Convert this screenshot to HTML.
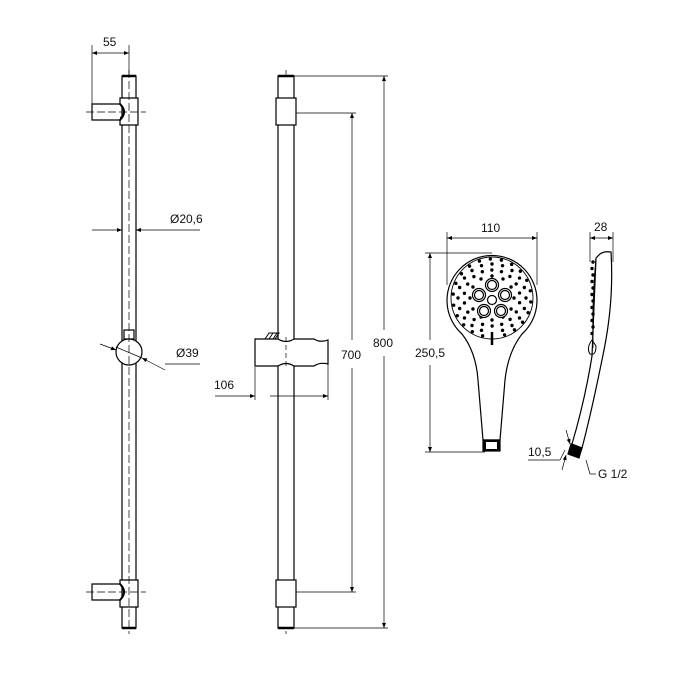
<!DOCTYPE html>
<html><head><meta charset="utf-8"><style>
html,body{margin:0;padding:0;background:#fff;width:700px;height:700px;overflow:hidden}
svg{display:block}
text{font-family:"Liberation Sans",sans-serif;font-size:12px;fill:#111}
</style></head><body>
<svg id="s" width="700" height="700" viewBox="0 0 700 700" xmlns="http://www.w3.org/2000/svg">
<defs>
<marker id="a" viewBox="0 0 10 10" refX="10" refY="5" markerWidth="9" markerHeight="5" orient="auto-start-reverse" markerUnits="userSpaceOnUse"><path d="M0,1 L10,5 L0,9z" fill="#000"/></marker>
</defs>
<g stroke="#000" fill="none" stroke-width="1.2">
<!-- LEFT BAR -->
<rect x="122" y="76" width="14" height="552" fill="#fff"/>
<line x1="122" y1="76" x2="136" y2="76" stroke-width="2.5"/>
<line x1="122" y1="628" x2="136" y2="628" stroke-width="2.5"/>
<!-- top bracket -->
<path d="M120,98 H138 V125 H120 V118 Q128,112 120,104 Z" fill="#fff"/>
<path d="M120,104 H92 V120 H120" fill="#fff"/>
<path d="M120,104 Q128,112 120,120" stroke-width="2"/>
<!-- bottom bracket -->
<path d="M120,580 H138 V607 H120 V600 Q128,592 120,584 Z" fill="#fff"/>
<path d="M120,584 H92 V600 H120" fill="#fff"/>
<path d="M120,584 Q128,592 120,600" stroke-width="2"/>
<!-- ball -->
<rect x="124" y="330" width="10" height="9" fill="#fff"/>
<circle cx="129" cy="352" r="13" fill="#fff"/>
<!-- center lines -->
<g stroke-width="0.7" stroke-dasharray="8,3">
<line x1="129" y1="70" x2="129" y2="634"/>
<line x1="86" y1="112" x2="146" y2="112"/>
<line x1="86" y1="592" x2="146" y2="592"/>
<line x1="286" y1="70" x2="286" y2="634"/>
</g>
<!-- dims left -->
<g stroke-width="0.7">
<line x1="92" y1="45" x2="92" y2="104"/>
<line x1="129" y1="45" x2="129" y2="76"/>
<line x1="92" y1="53" x2="129" y2="53" marker-start="url(#a)" marker-end="url(#a)"/>
<line x1="92" y1="230" x2="122" y2="230" marker-end="url(#a)"/>
<line x1="200" y1="230" x2="136" y2="230" marker-end="url(#a)"/>
<line x1="100" y1="344" x2="116" y2="350" marker-end="url(#a)"/>
<line x1="165" y1="370" x2="142" y2="358" marker-end="url(#a)"/>
<line x1="116" y1="347" x2="142" y2="358"/>
<line x1="165" y1="364" x2="200" y2="364"/>
</g>
<!-- MIDDLE BAR -->
<rect x="278" y="76" width="16" height="552" fill="#fff"/>
<line x1="278" y1="76" x2="294" y2="76" stroke-width="2.5"/>
<line x1="278" y1="628" x2="294" y2="628" stroke-width="2.5"/>
<rect x="276" y="98" width="20" height="27" fill="#fff"/>
<rect x="276" y="580" width="20" height="27" fill="#fff"/>
<path d="M255,339 H278 Q286,344 294,339 H314 Q320,343 328,340 V364 Q320,362 314,366 H294 Q286,361 278,366 H255 Z" fill="#fff"/>
<path d="M265,339 l4,-6 h10 l-4,6 M269,339 l4,-6 M273,339 l4,-6" stroke-width="1"/>
<g stroke-width="0.7">
<line x1="286" y1="337" x2="286" y2="367" stroke-dasharray="5,3"/>
<line x1="255" y1="367" x2="255" y2="400"/>
<line x1="328" y1="364" x2="328" y2="400"/>
<line x1="215" y1="396" x2="255" y2="396" marker-end="url(#a)"/>
<line x1="270" y1="396" x2="328" y2="396" marker-end="url(#a)"/>
<line x1="296" y1="113" x2="356" y2="113"/>
<line x1="296" y1="592" x2="356" y2="592"/>
<line x1="352" y1="113" x2="352" y2="340" marker-start="url(#a)"/>
<line x1="352" y1="368" x2="352" y2="592" marker-end="url(#a)"/>
<line x1="294" y1="76" x2="388" y2="76"/>
<line x1="294" y1="628" x2="388" y2="628"/>
<line x1="384" y1="76" x2="384" y2="330" marker-start="url(#a)"/>
<line x1="384" y1="356" x2="384" y2="628" marker-end="url(#a)"/>
</g>
<!-- SHOWER HEAD front -->
<path d="M462,334 A45,45 0 1 1 522,334 Q508,352 505,380 L500,440 H483 L478,380 Q476,352 462,334 Z" fill="#fff"/>
<circle cx="492" cy="298" r="41" stroke-width="0.9"/>
<rect x="483" y="440" width="17" height="11" fill="#000"/>
<rect x="486" y="442" width="11" height="7" fill="#fff" stroke="none"/>
<line x1="492" y1="332" x2="492" y2="345" stroke-width="2.5"/>
<g id="dots" fill="#000" stroke="none"></g>
<g id="cl" stroke-width="1.2"></g>
<g stroke-width="0.7">
<line x1="447" y1="232" x2="447" y2="285"/>
<line x1="537" y1="232" x2="537" y2="285"/>
<line x1="447" y1="238" x2="537" y2="238" marker-start="url(#a)" marker-end="url(#a)"/>
<line x1="425" y1="253" x2="492" y2="253"/>
<line x1="425" y1="452" x2="485" y2="452"/>
<line x1="430" y1="253" x2="430" y2="340" marker-start="url(#a)"/>
<line x1="430" y1="365" x2="430" y2="452" marker-end="url(#a)"/>
</g>
<!-- side view -->
<path d="M600,254 Q604,251 611,252 Q614,300 604,350 Q592,410 582,448 L572,444 Q585,400 592,356 L596,258 Z" fill="#fff"/>
<path d="M596,258 Q592,300 593,348" stroke-width="0.9"/>
<path d="M592,340 q-6,8 -2,14 q6,2 6,-8 z" stroke-width="1"/>
<g id="sd" fill="#000" stroke="none"></g>
<path d="M571,444 L582,448 L579,458 L568,454 Z" fill="#000"/>
<g stroke-width="0.7">
<line x1="590" y1="232" x2="590" y2="262"/>
<line x1="613" y1="232" x2="613" y2="262"/>
<line x1="590" y1="238" x2="613" y2="238" marker-start="url(#a)" marker-end="url(#a)"/>
<line x1="566" y1="430" x2="570" y2="444" marker-end="url(#a)"/>
<line x1="562" y1="470" x2="566" y2="455" marker-end="url(#a)"/>
<line x1="565" y1="450" x2="560" y2="460"/>
<line x1="528" y1="460" x2="560" y2="460"/>
<line x1="586" y1="460" x2="590" y2="474"/>
<line x1="590" y1="474" x2="596" y2="474"/>
</g>
</g>
<text x="103" y="46">55</text>
<text x="170" y="223">Ø20,6</text>
<text x="176" y="357">Ø39</text>
<text x="214" y="389">106</text>
<text x="341" y="359">700</text>
<text x="373" y="347">800</text>
<text x="481" y="232">110</text>
<text x="594" y="231">28</text>
<text x="415" y="357">250,5</text>
<text x="528" y="456">10,5</text>
<text x="598" y="478">G 1/2</text>
</svg>
<script>
var ns="http://www.w3.org/2000/svg",cx=492,cy=298;
var d=document.getElementById('dots'),cl=document.getElementById('cl'),sd=document.getElementById('sd');
function c(g,x,y,r,f){var e=document.createElementNS(ns,'circle');e.setAttribute('cx',x);e.setAttribute('cy',y);e.setAttribute('r',r);if(f)e.setAttribute('fill',f);g.appendChild(e);}
var rings=[[22,12,0],[28,18,0.17],[34,20,0],[39,22,0.1]];
rings.forEach(function(R){for(var i=0;i<R[1];i++){var a=i/R[1]*2*Math.PI+R[2];var x=cx+R[0]*Math.cos(a),y=cy+R[0]*Math.sin(a);
if(y>cy+30&&Math.abs(x-cx)<6)continue;c(d,x,y,1.7);}});
[[0,-13],[-13,-3],[13,-3],[-8,13],[9,13]].forEach(function(o){c(cl,cx+o[0],cy+o[1],6.5,'#fff');c(cl,cx+o[0],cy+o[1],4.5,'#fff');
c(d,cx+o[0]-1.5,cy+o[1],1);c(d,cx+o[0]+1.5,cy+o[1]-1,1);c(d,cx+o[0],cy+o[1]+1.5,1);});
c(cl,cx,cy+2,4.5,'#fff');
for(var i=0;i<12;i++){c(sd,593-(i%2),262+i*6.5,1.7);}
</script>
</body></html>
